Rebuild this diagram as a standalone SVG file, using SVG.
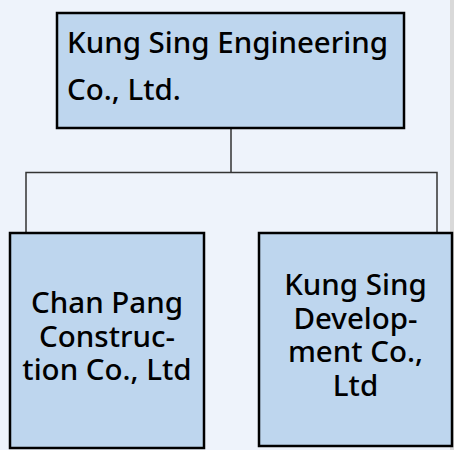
<svg xmlns="http://www.w3.org/2000/svg" width="454" height="450" viewBox="0 0 454 450">
<style>
.box{fill:#bed6ee;stroke:#000;stroke-width:2.5}
.t{font-family:"Noto Sans","Open Sans",sans-serif;font-size:29.5px;font-weight:500;fill:#000}
.c{text-anchor:middle}
.conn{fill:none;stroke:#333;stroke-width:1.5}
</style>
<rect x="0" y="0" width="454" height="450" fill="#eef3fb"/>
<rect x="450" y="0" width="4" height="450" fill="#d9d9d9"/>
<g id="connectors">
<path class="conn" d="M231 129V172.5M26 232V172.5H437V232"/>
</g>
<g id="node-top">
<rect class="box" x="57" y="13" width="347" height="115"/>
<text class="t" x="67" y="53">Kung Sing Engineering</text>
<text class="t" x="67" y="100">Co., Ltd.</text>
</g>
<g id="node-left">
<rect class="box" x="10" y="233" width="194" height="215"/>
<text class="t c" x="107" y="313">Chan Pang</text>
<text class="t c" x="107" y="346.5">Construc-</text>
<text class="t c" x="107" y="380">tion Co., Ltd</text>
</g>
<g id="node-right">
<rect class="box" x="259" y="233" width="193" height="213"/>
<text class="t c" x="355.5" y="295">Kung Sing</text>
<text class="t c" x="355.5" y="328.5">Develop-</text>
<text class="t c" x="355.5" y="362">ment Co.,</text>
<text class="t c" x="355.5" y="396">Ltd</text>
</g>
</svg>
